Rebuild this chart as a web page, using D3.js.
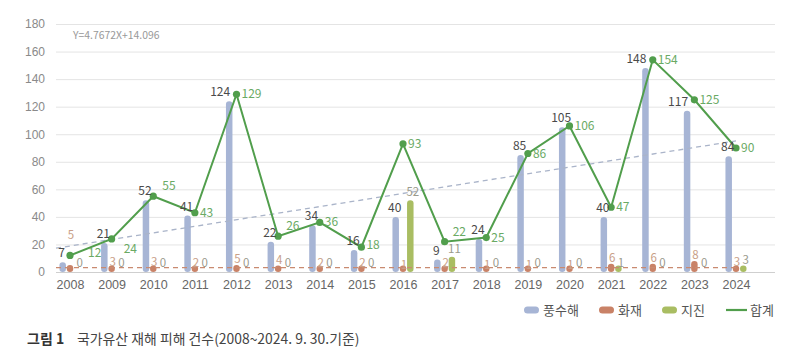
<!DOCTYPE html>
<html>
<head>
<meta charset="utf-8">
<script src="https://cdn.jsdelivr.net/npm/d3@7"></script>
<style>
 body { margin: 0; background: #fff; }
 svg { display: block; font-family: "Noto Sans CJK KR", "Noto Sans", sans-serif; }
 .grid line { stroke: #e4e4e4; }
 .grid text { fill: #8a8a8a; font-size: 12px; }
 .xaxis text { fill: #666; font-size: 12.5px; }
</style>
</head>
<body>
<svg width="799" height="361"></svg>
<script>
const years = ["2008", "2009", "2010", "2011", "2012", "2013", "2014", "2015", "2016",
 "2017", "2018", "2019", "2020", "2021", "2022", "2023", "2024"];
const flood = [7, 21, 52, 41, 124, 22, 34, 16, 40, 9, 24, 85, 105, 40, 148, 117, 84];
const fire = [5, 3, 3, 2, 5, 4, 2, 2, 1, 2, 1, 1, 1, 6, 6, 8, 3];
const quake = [0, 0, 0, 0, 0, 0, 0, 0, 52, 11, 0, 0, 0, 1, 0, 0, 3];
const total = [12, 24, 55, 43, 129, 26, 36, 18, 93, 22, 25, 86, 106, 47, 154, 125, 90];
const yTicks = [0, 20, 40, 60, 80, 100, 120, 140, 160, 180];
// trend lines: [slope, intercept] with x = 1..17
const floodTrend = [4.7672, 14.096];
const fireTrend = [0, 3.2];
const legendNames = ["풍수해", "화재", "지진", "합계"];

const colors = { flood: "#a7b5d5", fire: "#c98267", quake: "#a9bd62", total: "#519e4c" };

// label nudges where the original moved a label out of the way
const totalNudge = { "2008": [13, -2], "2009": [7, 10], "2010": [4, -10], "2013": [3, -10], "2015": [0, -2], "2017": [3, -10] };
const fireNudge = { "2008": [0, -24] };

const left = 56, right = 775;
const svg = d3.select("svg");

const x = d3.scalePoint().domain(years).range([70, 736]);
const xi = d3.scaleLinear().domain([1, years.length]).range([70, 736]);
const y = d3.scaleLinear().domain([0, 180]).range([272, 24]);

// grid + y labels
const grid = svg.append("g")
 .attr("class", "grid")
 .attr("transform", `translate(${left},0)`)
 .call(d3.axisLeft(y).tickValues(yTicks).tickSize(-(right - left)).tickPadding(11));
grid.select(".domain").remove();
grid.selectAll("line").filter(d => d === 0).style("stroke", "#cfcfcf");

// x labels
const xaxis = svg.append("g")
 .attr("class", "xaxis")
 .attr("transform", "translate(0,272)")
 .call(d3.axisBottom(x).tickSize(0).tickPadding(8));
xaxis.select(".domain").remove();

// bars
const bw = 6.5, off = 7.3;
const series = [
 { vals: flood, dx: -off, color: colors.flood },
 { vals: fire, dx: 0, color: colors.fire },
 { vals: quake, dx: off, color: colors.quake }
];
series.forEach(s => {
 const g = svg.append("g");
 s.vals.forEach((v, i) => {
  if (v <= 0) return;
  const h = Math.max(y(0) - y(v), bw);
  g.append("rect")
   .attr("x", x(years[i]) + s.dx - bw / 2)
   .attr("y", y(0) - h)
   .attr("width", bw)
   .attr("height", h)
   .attr("rx", bw / 2)
   .attr("fill", s.color);
 });
});

// trend lines
const trendLine = (coef, color) => {
 const x0 = xi.invert(left);
 const x1 = years.length;
 svg.append("line")
  .attr("x1", left).attr("x2", xi(x1))
  .attr("y1", y(coef[0] * x0 + coef[1]))
  .attr("y2", y(coef[0] * x1 + coef[1]))
  .attr("stroke", color)
  .attr("stroke-width", 1.3)
  .attr("stroke-dasharray", "5,4");
};
trendLine(floodTrend, "#aab4c9");
trendLine(fireTrend, "#c98a70");

// total line
svg.append("path")
 .datum(total)
 .attr("fill", "none")
 .attr("stroke", colors.total)
 .attr("stroke-width", 2)
 .attr("d", d3.line().x((d, i) => x(years[i])).y(d => y(d)));

svg.append("g").selectAll("circle")
 .data(total)
 .enter()
 .append("circle")
 .attr("cx", (d, i) => x(years[i]))
 .attr("cy", d => y(d))
 .attr("r", 3.6)
 .attr("fill", colors.total);

// labels
const lbl = svg.append("g").style("font-size", "12px");

lbl.selectAll(".fl")
 .data(flood)
 .enter()
 .append("text")
 .attr("x", (d, i) => x(years[i]) - off - (d > 110 ? 9 : 1))
 .attr("y", d => y(d) - 5)
 .attr("text-anchor", "middle")
 .attr("fill", "#4a4a4a")
 .text(d => d);

lbl.selectAll(".fi")
 .data(fire)
 .enter()
 .append("text")
 .attr("x", (d, i) => x(years[i]) + 1 + (fireNudge[years[i]] || [0, 0])[0])
 .attr("y", (d, i) => y(d) - 2 + (fireNudge[years[i]] || [0, 0])[1])
 .attr("text-anchor", "middle")
 .attr("fill", "#c9a088")
 .style("font-size", "11.5px")
 .text(d => d);

lbl.selectAll(".qk")
 .data(quake)
 .enter()
 .append("text")
 .attr("x", (d, i) => x(years[i]) + off + 2.5)
 .attr("y", d => Math.min(y(d) - 4, 266.5))
 .attr("text-anchor", "middle")
 .attr("fill", "#9a9a8c")
 .style("font-size", "11.5px")
 .text(d => d);

lbl.selectAll(".tt")
 .data(total)
 .enter()
 .append("text")
 .attr("x", (d, i) => x(years[i]) + 5 + (totalNudge[years[i]] || [0, 0])[0])
 .attr("y", (d, i) => y(d) + 4 + (totalNudge[years[i]] || [0, 0])[1])
 .attr("fill", "#6aaa64")
 .text(d => d);

// equation
svg.append("text")
 .attr("x", 73).attr("y", 39)
 .attr("fill", "#999")
 .style("font-size", "10.4px")
 .text("Y=" + floodTrend[0] + "X+" + floodTrend[1]);

// legend
const legendX = [524, 599, 662, 726];
const legendC = [colors.flood, colors.fire, colors.quake, colors.total];
const leg = svg.append("g").attr("transform", "translate(0,310)");
legendNames.forEach((name, i) => {
 if (i < 3) {
  leg.append("rect")
   .attr("x", legendX[i]).attr("y", -3.5)
   .attr("width", 15).attr("height", 7).attr("rx", 3.5)
   .attr("fill", legendC[i]);
 } else {
  leg.append("line")
   .attr("x1", legendX[i]).attr("x2", legendX[i] + 21)
   .attr("stroke", legendC[i]).attr("stroke-width", 2.2);
 }
 leg.append("text")
  .attr("x", legendX[i] + (i < 3 ? 19 : 24))
  .attr("y", 5)
  .attr("fill", "#555")
  .style("font-size", "13px")
  .text(name);
});

// caption
svg.append("text")
 .attr("x", 27).attr("y", 344)
 .attr("fill", "#333")
 .style("font-size", "14px")
 .style("font-weight", "bold")
 .text("그림 1");
svg.append("text")
 .attr("x", 77).attr("y", 344)
 .attr("fill", "#444")
 .style("font-size", "13.9px")
 .text("국가유산 재해 피해 건수(2008~2024. 9. 30.기준)");
</script>
</body>
</html>
